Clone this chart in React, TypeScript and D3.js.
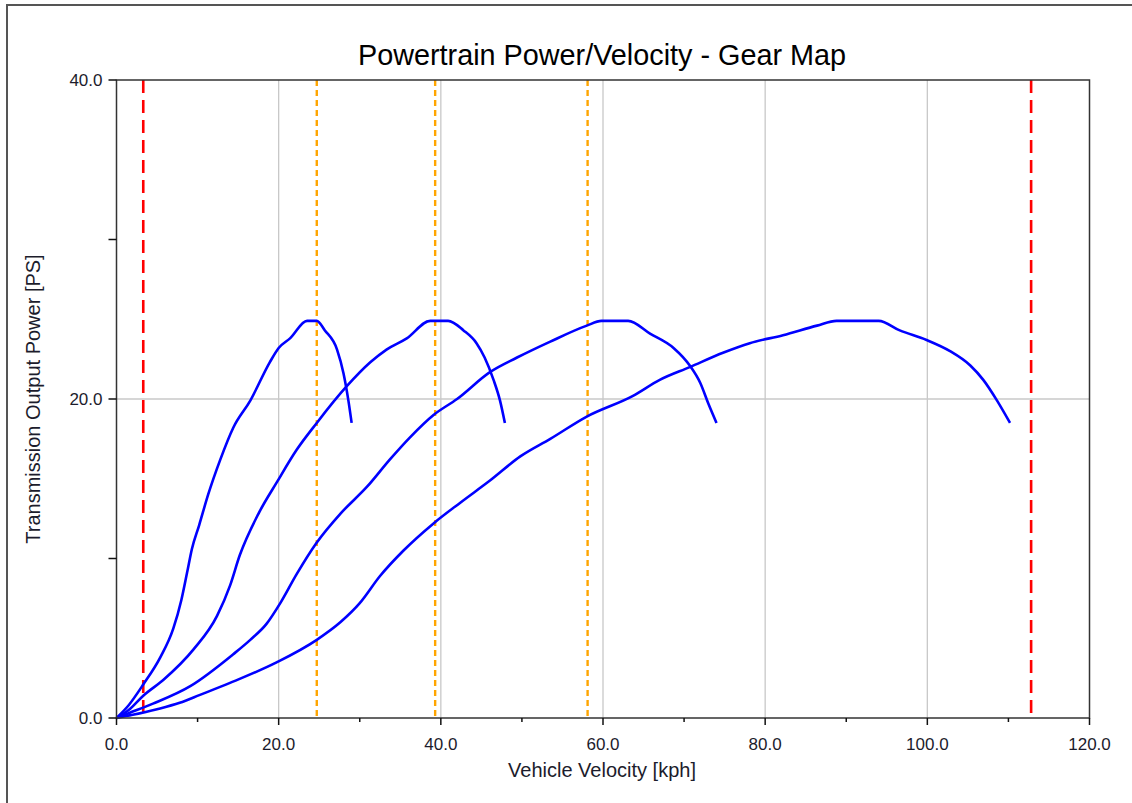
import React from "react";
import * as d3 from "d3";

const gear1X = [0, 1.5, 3.3, 5.4, 7.0, 8.0, 8.7, 9.3, 10.2, 11.3, 12.8, 14.4, 16.5, 18.9, 20.0, 21.4, 23.5, 24.7, 25.7, 27.2, 28.0, 28.6, 29.0];
const gear1Y = [0, 0.8, 2.1, 3.8, 5.6, 7.4, 9.1, 10.6, 12.1, 14.0, 16.2, 18.2, 19.9, 22.3, 23.2, 23.8, 24.9, 24.9, 24.3, 23.1, 21.6, 19.9, 18.5];

const gear2X = [0, 1.5, 3.3, 5.8, 9.5, 12.4, 14.0, 15.2, 17.5, 19.8, 22.2, 24.7, 28.4, 31.3, 33.3, 35.8, 38.7, 40.9, 42.8, 44.4, 45.4, 46.5, 47.3, 47.9];
const gear2Y = [0, 0.5, 1.4, 2.4, 4.3, 6.4, 8.3, 10.2, 12.8, 14.8, 16.8, 18.5, 20.8, 22.3, 23.1, 23.8, 24.9, 24.9, 24.3, 23.5, 22.6, 21.2, 19.9, 18.5];

const gear3X = [0, 1.5, 4.5, 9.1, 14.4, 16.5, 18.5, 20.2, 22.2, 24.7, 27.6, 30.9, 33.7, 36.2, 39.1, 42.0, 46.1, 49.4, 53.5, 58.0, 59.8, 63.1, 65.8, 68.7, 70.7, 72.0, 73.0, 74.0];
const gear3Y = [0, 0.3, 0.9, 2.0, 4.0, 4.9, 5.9, 7.2, 9.0, 11.0, 12.8, 14.5, 16.2, 17.6, 19.0, 20.0, 21.7, 22.6, 23.6, 24.6, 24.9, 24.9, 24.1, 23.2, 22.1, 21.0, 19.7, 18.5];

const gear4X = [0, 2.0, 5.0, 7.8, 10.3, 14.0, 19.8, 24.7, 27.6, 30.0, 32.5, 35.4, 39.1, 42.4, 46.1, 49.8, 53.5, 58.0, 63.7, 67.0, 70.7, 74.8, 78.1, 82.2, 86.4, 88.8, 94.0, 96.6, 99.9, 102.8, 105.3, 106.9, 108.6, 110.2];
const gear4Y = [0, 0.2, 0.55, 0.95, 1.45, 2.2, 3.5, 4.9, 6.0, 7.2, 8.9, 10.5, 12.2, 13.5, 14.9, 16.4, 17.5, 18.9, 20.2, 21.2, 22.0, 22.9, 23.5, 24.0, 24.6, 24.9, 24.9, 24.3, 23.7, 23.0, 22.1, 21.2, 19.9, 18.5];

const limitLines = [3.3, 112.8];
const shiftLines = [24.7, 39.3, 58.1];

const xTicks = [0, 20, 40, 60, 80, 100, 120];
const xMinor = [10, 30, 50, 70, 90, 110];
const yTicks = [0, 20, 40];
const yMinor = [10, 30];
const xGrid = [20, 40, 60, 80, 100];
const yGrid = [20];

const W = 1132;
const H = 803;
const L = 116.5, R = 1089.5, T = 80, B = 718;

export default function App() {
  const x = d3.scaleLinear().domain([0, 120]).range([L, R]);
  const y = d3.scaleLinear().domain([0, 40]).range([B, T]);
  const line = d3.line<[number, number]>().x(d => x(d[0])).y(d => y(d[1])).curve(d3.curveMonotoneX);
  const gears = [
    [gear1X, gear1Y],
    [gear2X, gear2Y],
    [gear3X, gear3Y],
    [gear4X, gear4Y],
  ];
  const font = "'Liberation Sans', Arial, sans-serif";
  const textCol = "#1c1c2c";
  return (
    <svg width={W} height={H} style={{ position: "absolute", left: 0, top: 0, background: "#fff" }}>
      <rect x={7} y={5} width={1140} height={820} fill="#fff" stroke="#555" strokeWidth={2} />
      <text x={602} y={65} textAnchor="middle" fontFamily={font} fontSize={28.8} fill="#000">Powertrain Power/Velocity - Gear Map</text>
      {xGrid.map(v => (
        <line key={"gx" + v} x1={x(v)} x2={x(v)} y1={T} y2={B} stroke="#c8c8c8" strokeWidth={1.3} />
      ))}
      {yGrid.map(v => (
        <line key={"gy" + v} x1={L} x2={R} y1={y(v)} y2={y(v)} stroke="#c8c8c8" strokeWidth={1.3} />
      ))}
      {limitLines.map(v => (
        <line key={"lim" + v} x1={x(v)} x2={x(v)} y1={T} y2={B} stroke="#ff0000" strokeWidth={2.6} strokeDasharray="13,7" />
      ))}
      {shiftLines.map(v => (
        <line key={"sh" + v} x1={x(v)} x2={x(v)} y1={T} y2={B} stroke="#ffa500" strokeWidth={2.4} strokeDasharray="6,4" />
      ))}
      {gears.map((g, i) => {
        const pts = g[0].map((v, j) => [v, g[1][j]] as [number, number]);
        return <path key={"g" + i} d={line(pts) || ""} fill="none" stroke="#0000ff" strokeWidth={2.6} strokeLinejoin="round" />;
      })}
      <rect x={L} y={T} width={R - L} height={B - T} fill="none" stroke="#333" strokeWidth={1.5} />
      {xTicks.map(v => (
        <g key={"xt" + v}>
          <line x1={x(v)} x2={x(v)} y1={B} y2={B + 7} stroke="#111" strokeWidth={1.5} />
          <text x={x(v)} y={B + 32} textAnchor="middle" fontFamily={font} fontSize={17} fill={textCol}>{v.toFixed(1)}</text>
        </g>
      ))}
      {xMinor.map(v => (
        <line key={"xm" + v} x1={x(v)} x2={x(v)} y1={B} y2={B + 4} stroke="#111" strokeWidth={1.5} />
      ))}
      {yTicks.map(v => (
        <g key={"yt" + v}>
          <line x1={L - 8} x2={L} y1={y(v)} y2={y(v)} stroke="#111" strokeWidth={1.5} />
          <text x={L - 14} y={y(v) + 6} textAnchor="end" fontFamily={font} fontSize={17} fill={textCol}>{v.toFixed(1)}</text>
        </g>
      ))}
      {yMinor.map(v => (
        <line key={"ym" + v} x1={L - 8} x2={L} y1={y(v)} y2={y(v)} stroke="#111" strokeWidth={1.5} />
      ))}
      <text x={602} y={777} textAnchor="middle" fontFamily={font} fontSize={20} fill={textCol}>Vehicle Velocity [kph]</text>
      <text transform={`translate(40,${(T + B) / 2}) rotate(-90)`} textAnchor="middle" fontFamily={font} fontSize={20} fill={textCol}>Transmission Output Power [PS]</text>
    </svg>
  );
}
